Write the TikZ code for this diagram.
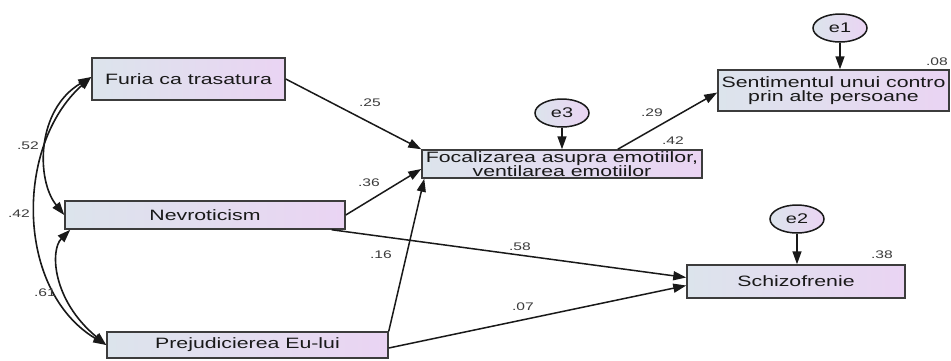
\documentclass[tikz,border=0pt]{standalone}
\usepackage{fontspec}
\setmainfont[FakeStretch=1.42]{Liberation Sans}
\usetikzlibrary{arrows.meta,shapes.geometric,calc}
\definecolor{boxL}{RGB}{220,228,236}
\definecolor{boxR}{RGB}{234,212,243}
\definecolor{ink}{RGB}{25,25,25}
\tikzset{
  var/.style={draw=ink!85, line width=1.5pt, left color=boxL, right color=boxR, inner sep=0pt,
    font=\fontsize{15}{14}\selectfont, text=ink, align=center},
  err/.style={ellipse, draw=ink, line width=1.5pt, left color=boxL, right color=boxR,
    minimum width=54pt, minimum height=28pt, inner sep=0pt, font=\fontsize{14}{14}\selectfont, text=ink},
  arr/.style={line width=1.5pt, draw=ink, -{Triangle[length=13pt,width=9pt]}},
  cov/.style={line width=1.6pt, draw=ink, {Triangle[length=13pt,width=9pt]}-{Triangle[length=13pt,width=9pt]}},
  lab/.style={font=\fontsize{11}{11}\selectfont, text=ink!85, inner sep=0pt}
}
\begin{document}
\begin{tikzpicture}[x=1pt,y=-1pt]
\fill[white] (0,0) rectangle (951,360);
\useasboundingbox (0,0) rectangle (951,360);

% observed variables
\node[var, minimum width=193pt, minimum height=42pt] (furia) at (188.5,79) {Furia ca trasatura};
\node[var, minimum width=280pt, minimum height=28pt] (nevro) at (205,215) {Nevroticism};
\node[var, minimum width=281pt, minimum height=26pt] (prej) at (247.5,345) {Prejudicierea Eu-lui};
\node[var, minimum width=280pt, minimum height=28pt] (foc) at (562,164) {Focalizarea asupra emotiilor,\\ventilarea emotiilor};
\node[var, minimum width=231pt, minimum height=41pt] (sent) at (833.5,90.5) {Sentimentul unui contro\\prin alte persoane};
\node[var, minimum width=218pt, minimum height=33pt] (schizo) at (796,281.5) {Schizofrenie};

% error terms
\node[err] (e1) at (840,28) {e1};
\node[err] (e3) at (562,113) {e3};
\node[err] (e2) at (797,219) {e2};

% structural paths
\draw[arr] (furia.east) -- (foc.north west);
\draw[arr] (nevro.east) -- ($(foc.west)+(0,5)$);
\draw[arr] (prej.north east) -- ($(foc.south west)+(3,0)$);
\draw[arr] ($(nevro.south east)+(-14,0)$) -- ($(schizo.west)+(0,-4)$);
\draw[arr] ($(prej.east)+(0,3)$) -- ($(schizo.west)+(0,4)$);
\draw[arr] ($(foc.north east)+(-85,0)$) -- ($(sent.west)+(0,2)$);
\draw[arr] (e3.south) -- (foc.north);
\draw[arr] (e1.south) -- (e1.south |- sent.north);
\draw[arr] (e2.south) -- (e2.south |- schizo.north);

% covariances
\draw[cov] ($(furia.west)+(0,-2)$) .. controls (36,110) and (36,180) .. (nevro.west);
\draw[cov] ($(furia.west)+(0,-2)$) .. controls (15,145) and (15,290) .. (prej.west);
\draw[cov] ($(nevro.south west)+(6,0)$) .. controls (50,250) and (52,300) .. (prej.west);

% coefficients
\node[lab] (l52) at (28,146) {.52};
\node[lab] (l42a) at (19,214) {.42};
\node[lab] (l61) at (45,293) {.61};
\node[lab] (l25) at (370,103) {.25};
\node[lab] (l36) at (369,183) {.36};
\node[lab] (l16) at (381,255) {.16};
\node[lab] (l58) at (520,247) {.58};
\node[lab] (l07) at (523,307) {.07};
\node[lab] (l29) at (652,113) {.29};
\node[lab] (l42b) at (673,141) {.42};
\node[lab] (l08) at (937,62) {.08};
\node[lab] (l38) at (882,255) {.38};
\end{tikzpicture}
\end{document}
